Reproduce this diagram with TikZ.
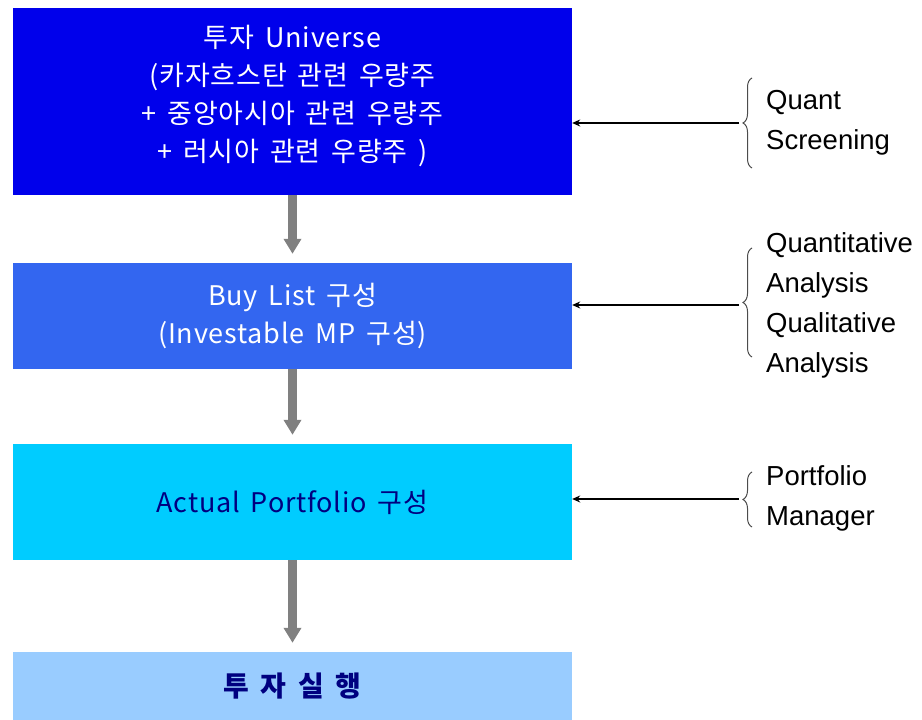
\documentclass[tikz,border=0pt]{standalone}
\usepackage{fontspec}
\setmainfont{Liberation Sans}
\newfontfamily\kofont[LetterSpace=3, WordSpace=1.6]{Noto Sans CJK KR}
\usetikzlibrary{arrows.meta, positioning, decorations.pathreplacing}

\definecolor{univblue}{RGB}{0,0,235}
\definecolor{buyblue}{RGB}{51,102,240}
\definecolor{actcyan}{RGB}{0,204,255}
\definecolor{execblue}{RGB}{153,204,255}
\definecolor{navytext}{RGB}{0,0,128}
\definecolor{flowgray}{RGB}{128,128,128}

\begin{document}
\begin{tikzpicture}[
        x=1pt, y=1pt,
        every node/.style={inner sep=0pt},
        stage/.style={rectangle, minimum width=559pt, align=center, font=\kofont\fontsize{27}{38}\selectfont},
        flow/.style={line width=9pt, draw=flowgray, -{Triangle[width=17pt,length=15pt]}, shorten >=9pt},
        feed/.style={line width=1.2pt, -{Stealth[length=8pt,width=7pt]}},
        bracket/.style={decorate, decoration={brace, amplitude=9pt}, line width=1pt, draw=black!70},
        side/.style={anchor=west, align=left, font=\fontsize{27.5}{40}\selectfont}
    ]
    \useasboundingbox (0,0) rectangle (922,720);

    % Stages
    \node[stage, fill=univblue, text=white, minimum height=187pt] (universe) at (292.5,618.5)
        {투자 Universe\\(카자흐스탄 관련 우량주\\ + 중앙아시아 관련 우량주\\ + 러시아 관련 우량주 )\\[-21pt]};
    \node[stage, fill=buyblue, text=white, minimum height=106pt] (buylist) at (292.5,404)
        {Buy List 구성\\(Investable MP 구성)};
    \node[stage, fill=actcyan, text=navytext, minimum height=116pt] (portfolio) at (292.5,218)
        {Actual Portfolio 구성};
    \node[stage, fill=execblue, text=navytext, minimum height=68pt, font=\kofont\bfseries\fontsize{28}{30}\selectfont] (execution) at (292.5,34)
        {투 자 실 행};

    % Flow between stages
    \draw[flow] (universe) -- (buylist);
    \draw[flow] (buylist) -- (portfolio);
    \draw[flow] (portfolio) -- (execution);

    % Inputs on the right
    \node[side] (quant) at (766,597) {Quant\\Screening};
    \node[side] (analysis) at (766,415) {Quantitative\\Analysis\\Qualitative\\Analysis};
    \node[side] (manager) at (766,221.5) {Portfolio\\Manager};

    \draw[bracket] (752,552) -- (752,642);
    \draw[bracket] (752,363) -- (752,472);
    \draw[bracket] (752,193) -- (752,248);

    \coordinate (quanttip) at (739,597);
    \coordinate (analysistip) at (739,415);
    \coordinate (managertip) at (739,221);

    \draw[feed] (quanttip) -- (universe.east |- quanttip);
    \draw[feed] (analysistip) -- (buylist.east |- analysistip);
    \draw[feed] (managertip) -- (portfolio.east |- managertip);

\end{tikzpicture}
\end{document}
